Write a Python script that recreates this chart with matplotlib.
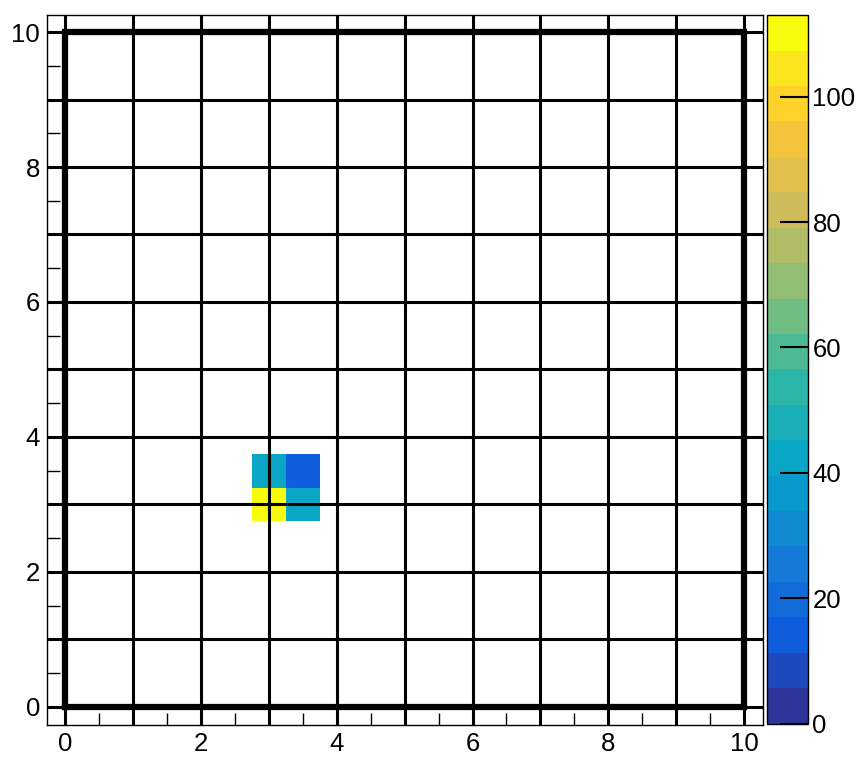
import numpy as np
import matplotlib
matplotlib.use("Agg")
import matplotlib.pyplot as plt
from matplotlib.colors import LinearSegmentedColormap, BoundaryNorm, ListedColormap
from matplotlib.colorbar import ColorbarBase
from matplotlib.ticker import MultipleLocator

plt.rcParams['font.family'] = ['Liberation Sans', 'DejaVu Sans']

# histogram bins and contents
x_edges = [2.75, 3.25, 3.75]
y_edges = [2.75, 3.25, 3.75]
counts = [[113, 42],   # row y 2.75-3.25
          [42, 14]]    # row y 3.25-3.75
z_max = 113
n_levels = 20

# grid drawn over the histogram
grid_pos = [0, 1, 2, 3, 4, 5, 6, 7, 8, 9, 10]
box = [0, 10]

# ROOT kBird palette
stops = [0.0, 0.125, 0.25, 0.375, 0.5, 0.625, 0.75, 0.875, 1.0]
red = [0.2082, 0.0592, 0.0780, 0.0232, 0.1802, 0.5301, 0.8186, 0.9956, 0.9764]
green = [0.1664, 0.3599, 0.5041, 0.6419, 0.7178, 0.7492, 0.7328, 0.7862, 0.9832]
blue = [0.5293, 0.8684, 0.8385, 0.7914, 0.6425, 0.4662, 0.3499, 0.1968, 0.0539]
bird = LinearSegmentedColormap.from_list(
    "bird", [(s, (r, g, b)) for s, r, g, b in zip(stops, red, green, blue)])
cmap = ListedColormap(bird(np.linspace(0.03, 1, n_levels)))
levels = np.linspace(0, z_max, n_levels + 1)
norm = BoundaryNorm(levels, cmap.N)

fig = plt.figure(figsize=(8.58, 7.6), dpi=100)
ax = fig.add_axes([0.0548, 0.046, 0.8345, 0.934])
cax = fig.add_axes([0.894, 0.048, 0.048, 0.932])

ax.pcolormesh(x_edges, y_edges, np.array(counts), cmap=cmap, norm=norm, zorder=1)

for p in grid_pos:
    ax.axvline(p, color="black", lw=2.2, zorder=2)
    ax.axhline(p, color="black", lw=2.2, zorder=2)
ax.plot([box[0], box[1], box[1], box[0], box[0]],
        [box[0], box[0], box[1], box[1], box[0]],
        color="black", lw=4.5, solid_joinstyle="miter", zorder=3)

ax.set_xlim(-0.27, 10.28)
ax.set_ylim(-0.27, 10.25)
ax.xaxis.set_major_locator(MultipleLocator(2))
ax.xaxis.set_minor_locator(MultipleLocator(0.5))
ax.yaxis.set_major_locator(MultipleLocator(2))
ax.yaxis.set_minor_locator(MultipleLocator(0.5))
ax.tick_params(which="both", direction="in", labelsize=18.5, width=1, color="black")
ax.tick_params(which="major", length=14, pad=5)
ax.tick_params(which="minor", length=9)
for s in ax.spines.values():
    s.set_linewidth(1)

cb = ColorbarBase(cax, cmap=cmap, norm=norm, boundaries=levels, spacing="proportional")
cb.outline.set_linewidth(1)
cb.set_ticks([0, 20, 40, 60, 80, 100])
cax.yaxis.set_minor_locator(plt.NullLocator())
cax.tick_params(direction="in", length=20, width=1.5, labelsize=18.5, pad=3)

fig.savefig("out.png", dpi=100)
